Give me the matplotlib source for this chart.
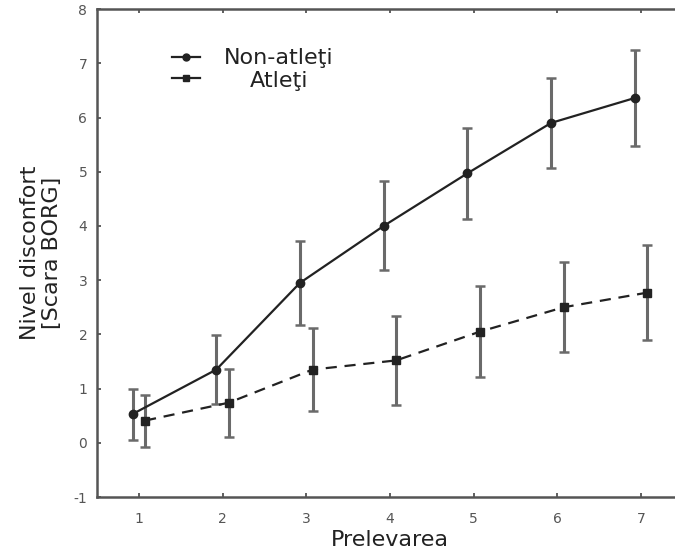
import numpy as np
import matplotlib.pyplot as plt
from matplotlib.lines import Line2D

plt.rcParams['axes.unicode_minus'] = False

# data
prelevare = np.array([1, 2, 3, 4, 5, 6, 7])
non_atleti = [0.53, 1.35, 2.95, 4.0, 4.97, 5.9, 6.36]
non_atleti_err = [0.47, 0.63, 0.77, 0.82, 0.84, 0.83, 0.88]
atleti = [0.41, 0.74, 1.35, 1.52, 2.05, 2.5, 2.77]
atleti_err = [0.48, 0.63, 0.77, 0.82, 0.84, 0.83, 0.88]
offset = 0.075

fig = plt.figure(figsize=(6.75, 5.57), dpi=100)
# the right spine sits just outside the picture, as in the reference
ax = fig.add_axes([0.1437, 0.1077, 0.868, 0.876])

gray = '#6a6a6a'
ax.errorbar(prelevare - offset, non_atleti, yerr=non_atleti_err, fmt='none',
            ecolor=gray, elinewidth=2.2, capsize=3.5, capthick=1.8, zorder=2)
ax.errorbar(prelevare + offset, atleti, yerr=atleti_err, fmt='none',
            ecolor=gray, elinewidth=2.2, capsize=3.5, capthick=1.8, zorder=2)
ax.plot(prelevare - offset, non_atleti, color='#222222', lw=1.6,
        marker='o', ms=6, zorder=3)
ax.plot(prelevare + offset, atleti, color='#222222', lw=1.6, ls=(0, (5, 3.5)),
        marker='s', ms=6, zorder=3)

ax.set_xlim(0.5, 7.5)
ax.set_ylim(-1, 8)
ax.set_xticks(prelevare)
ax.set_yticks(range(-1, 9))
ax.tick_params(direction='in', length=3, width=1.2, colors='#444444',
               labelcolor='#555555', labelsize=10, top=True, right=True)
ax.tick_params(axis='x', pad=11)
ax.tick_params(axis='y', pad=7)
for s in ax.spines.values():
    s.set_color('#555555')
    s.set_linewidth(1.8)

ax.set_xlabel('Prelevarea', fontsize=16, color='#222222', labelpad=3)
ax.set_ylabel('Nivel disconfort\n[Scara BORG]', fontsize=16, color='#222222',
              linespacing=1.15, labelpad=8)

# legend drawn by hand so the labels are centred like the original
h1 = Line2D([0.128, 0.152, 0.176], [0.902, 0.902, 0.902], transform=ax.transAxes,
            color='#222222', lw=1.6, marker='o', ms=5, markevery=[1])
h2 = Line2D([0.128, 0.152, 0.176], [0.859, 0.859, 0.859], transform=ax.transAxes,
            color='#222222', lw=1.6, marker='s', ms=5, markevery=[1])
ax.add_line(h1)
ax.add_line(h2)
ax.text(0.31, 0.900, 'Non-atleţi', transform=ax.transAxes, ha='center',
        va='center', fontsize=16, color='#222222')
ax.text(0.31, 0.853, 'Atleţi', transform=ax.transAxes, ha='center',
        va='center', fontsize=16, color='#222222')

fig.savefig('out.png', dpi=100)
